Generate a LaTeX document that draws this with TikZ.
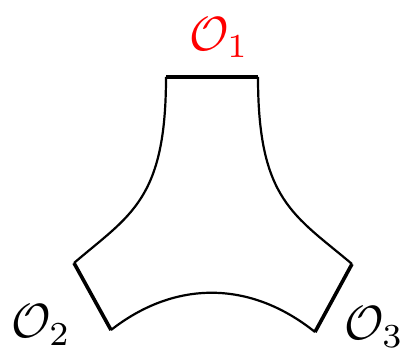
\documentclass[tikz,border=0pt]{standalone}
\usepackage{graphicx}
\begin{document}
\begin{tikzpicture}[x=1pt,y=-1pt,
  edge/.style={line width=2.2pt,line join=round},
  boundary/.style={line width=3.6pt,line cap=butt},
  lbl/.style={inner sep=0pt}]
\useasboundingbox (0,0) rectangle (407,353);
\coordinate (a) at (166,77);
\coordinate (b) at (258,77);
\coordinate (c) at (74,263);
\coordinate (d) at (111,330);
\coordinate (e) at (315,332);
\coordinate (f) at (352,264);
\draw[edge] (a) .. controls (166,200) and (130,215) .. (c);
\draw[edge] (b) .. controls (258,200) and (294,215) .. (f);
\draw[edge] (d) .. controls (175,280) and (250,280) .. (e);
\draw[boundary] (a) -- (b);
\draw[boundary] (c) -- (d);
\draw[boundary] (e) -- (f);
\node[lbl,text=red] (o1) at (219,38) {\scalebox{4.8}{$\mathcal{O}_1$}};
\node[lbl] (o2) at (41,325) {\scalebox{4.8}{$\mathcal{O}_2$}};
\node[lbl] (o3) at (374,327) {\scalebox{4.8}{$\mathcal{O}_3$}};
\end{tikzpicture}
\end{document}
